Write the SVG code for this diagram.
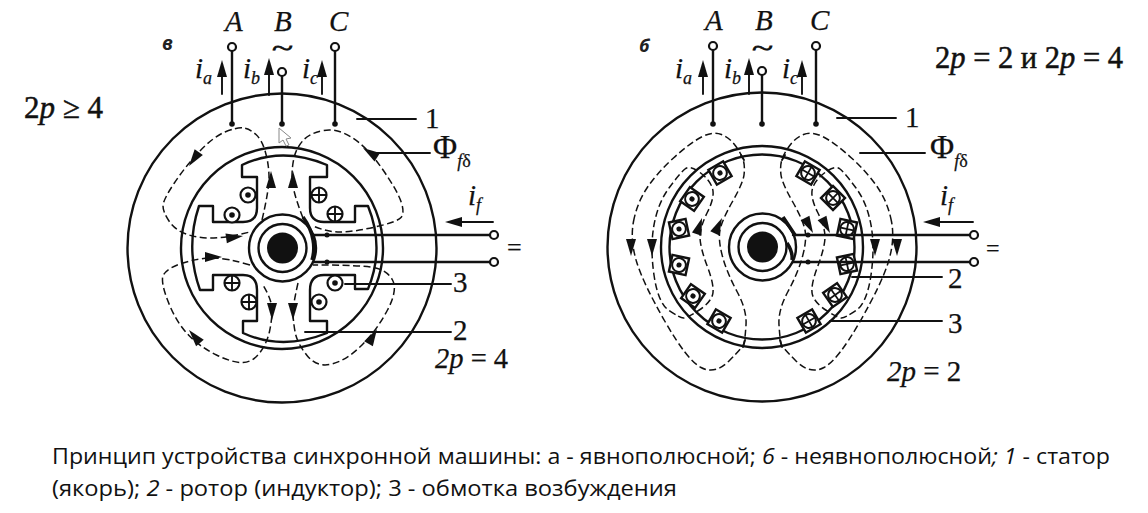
<svg xmlns="http://www.w3.org/2000/svg" width="1148" height="513" viewBox="0 0 1148 513">
<style>
.l{fill:none;stroke:#111;stroke-width:2.4;stroke-linecap:round;stroke-linejoin:round}
.m{fill:none;stroke:#111;stroke-width:1.9;stroke-linecap:round}
.d{fill:none;stroke:#111;stroke-width:1.5;stroke-dasharray:7 3.5}
.k{fill:#111;stroke:none}
.o{fill:#fff;stroke:#111;stroke-width:2.2}
.t{font-family:"Liberation Serif",serif;fill:#111;font-size:29px;stroke:#111;stroke-width:.25}
.i{font-style:italic}
.s{font-size:18px}
.c{font-family:"Open Sans","Noto Sans",sans-serif;font-size:22.5px;fill:#111}
.ls{font-family:"Open Sans",sans-serif;font-style:italic;font-weight:700;fill:#222}
.w{font-size:26px;stroke-width:.7}
</style>
<defs>
<path id="ah" class="k" d="M0 0L-17 -5L-17 5Z"/>
<circle id="term" class="o" r="4"/>
<g id="dot"><circle class="o" r="7.5"/><circle class="k" r="2.8"/></g>
<g id="plus"><circle class="o" r="7.5"/><path class="m" d="M-7 0H7M0 -7V7"/></g>
<rect id="slot" x="-8.5" y="-8.5" width="17" height="17" fill="#fff" stroke="#111" stroke-width="2.4"/>
<g id="hub">
<circle class="l" r="33.5"/>
<circle class="l" r="24"/>
<circle class="k" r="15.5"/>
</g>
</defs>

<g id="machine-a">
<circle class="l" cx="282" cy="248" r="154.5"/>
<circle class="l" cx="282" cy="248" r="101"/>
<g id="rotor-a">
<path class="l" d="M242 165Q282 146 327 165V177H310V208Q310 222 324 222H355V206H368Q385 248 368 289H355V275H324Q310 275 310 290V321H327V333Q282 351 243 333V321H257V290Q257 275 243 275H213V290H200Q185 248 199 206H213V222H243Q257 222 257 208V177H242Z"/>
<use href="#hub" x="282.5" y="248"/>
<path d="M303 217Q311 228 313 240Q315 250 312 260" fill="none" stroke="#111" stroke-width="3.5"/>
</g>
<g id="coils-a">
<use href="#dot" x="248" y="195"/><use href="#dot" x="232" y="215"/>
<use href="#plus" x="319" y="195"/><use href="#plus" x="335" y="214"/>
<use href="#plus" x="232" y="283"/><use href="#plus" x="249" y="302"/>
<use href="#dot" x="319" y="302"/><use href="#dot" x="335" y="283"/>
</g>
<path id="pointer" d="M279 128V143L283 140L286 146L289 145L286 139L291 138Z" fill="#fff" stroke="#888" stroke-width="1"/>
</g>

<g id="machine-b">
<circle class="l" cx="762" cy="247" r="154.5"/>
<circle class="l" cx="762" cy="247" r="101"/>
<circle class="l" cx="762" cy="247" r="92.5"/>
<g id="slots-b">
<g transform="translate(720 173) rotate(-30)"><use href="#slot"/><use href="#dot" transform="scale(.92)"/></g>
<g transform="translate(692 199) rotate(35)"><use href="#slot"/><use href="#dot" transform="scale(.92)"/></g>
<g transform="translate(679 229) rotate(-12)"><use href="#slot"/><use href="#dot" transform="scale(.92)"/></g>
<g transform="translate(679 265) rotate(12)"><use href="#slot"/><use href="#dot" transform="scale(.92)"/></g>
<g transform="translate(693 296) rotate(35)"><use href="#slot"/><use href="#dot" transform="scale(.92)"/></g>
<g transform="translate(719 321) rotate(30)"><use href="#slot"/><use href="#dot" transform="scale(.92)"/></g>
<g transform="translate(808 173) rotate(30)"><use href="#slot"/><use href="#plus" transform="scale(.92)"/></g>
<g transform="translate(833 198) rotate(45)"><use href="#slot"/><use href="#plus" transform="scale(.92)"/></g>
<g transform="translate(847 229) rotate(12)"><use href="#slot"/><use href="#plus" transform="scale(.92)"/></g>
<g transform="translate(847 264) rotate(-12)"><use href="#slot"/><use href="#plus" transform="scale(.92)"/></g>
<g transform="translate(835 295) rotate(-35)"><use href="#slot"/><use href="#plus" transform="scale(.92)"/></g>
<g transform="translate(809 321) rotate(-30)"><use href="#slot"/><use href="#plus" transform="scale(.92)"/></g>
</g>
<use href="#hub" x="762.5" y="247"/>
<path d="M783 217L795 235M787 243Q793 252 792 260" fill="none" stroke="#111" stroke-width="3.5"/>
<path class="m" d="M741 155L744 160M785 155L782 160M745 340L743 347M780 340L782 347"/>
</g>

<g id="connectors">
<g id="flux-a" class="d">
<path d="M262 220Q269 190 269 177.5Q269 165 265.5 152.5Q262 140 256 134.5Q250 129 243.5 128Q237 127 225 132Q213 137 199 152Q185 167 174 183.5Q163 200 163 206Q163 212 169 221Q175 230 186 234Q197 238 210 238Q223 238 236.5 235L250 232"/>
<path d="M250 265Q227 258 212 258Q197 258 180 264Q163 270 162.5 278.5Q162 287 169.5 305Q177 323 188.5 335Q200 347 216.5 355Q233 363 243 362.5Q253 362 260 352.5Q267 343 269.5 331.5Q272 320 272 310Q272 300 263 285"/>
<path d="M298 283Q293 305 293 312.5Q293 320 295 331.5Q297 343 307 355.5Q317 368 332 364Q347 360 362 345Q377 330 387.5 310Q398 290 392.5 280Q387 270 373.5 267.5Q360 265 313 265"/>
<path d="M303 218Q292 190 292 177Q292 165 294.5 156Q297 147 303.5 140Q310 133 323.5 130.5Q337 128 352 137.5Q367 147 382 168.5Q397 190 401 201.5Q405 213 401 217.5Q397 222 375 227Q353 232 340 232Q327 232 313 226"/>
</g>
<g id="flux-b" class="d">
<path id="fo" d="M633.5 221.5Q637 203 647 188Q657 173 673.5 158Q690 143 701.5 137Q713 131 721.5 134.5Q730 138 736 146.5Q742 155 743.5 161Q745 167 744 175Q743 183 732.5 201.5Q722 220 720 230Q718 240 722.5 256.5Q727 273 737 291.5Q747 310 746 325Q745 340 744 343.5Q743 347 729 361Q715 375 701 367.5Q687 360 665 321.5Q643 283 636.5 261.5Q630 240 633.5 221.5Z"/>
<path id="fi" d="M700 172.5Q710 180 712.5 188.5Q715 197 707.5 212Q700 227 700 237Q700 247 707.5 267Q715 287 712.5 295Q710 303 698.5 310.5Q687 318 683.5 318Q680 318 669 310.5Q658 303 654 275Q650 247 654 225Q658 203 669 188Q680 173 685 169Q690 165 700 172.5Z"/>
<use href="#fo" transform="matrix(-1 0 0 1 1525 0)"/>
<use href="#fi" transform="matrix(-1 0 0 1 1525 0)"/>
</g>
<g id="flux-arrows">
<use href="#ah" transform="translate(189 166) rotate(125)"/>
<use href="#ah" transform="translate(271 171) rotate(-90)"/>
<use href="#ah" transform="translate(293 171) rotate(-90)"/>
<use href="#ah" transform="translate(243 236) rotate(-8)"/>
<use href="#ah" transform="translate(222 257) rotate(0)"/>
<use href="#ah" transform="translate(272 320) rotate(90)"/>
<use href="#ah" transform="translate(293 320) rotate(90)"/>
<use href="#ah" transform="translate(189 330) rotate(230)"/>
<use href="#ah" transform="translate(377 329) rotate(-60)"/>
<use href="#ah" transform="translate(631 256) rotate(90)"/>
<use href="#ah" transform="translate(652 256) rotate(90)"/>
<use href="#ah" transform="translate(875 256) rotate(90)"/>
<use href="#ah" transform="translate(897 256) rotate(90)"/>
<use href="#ah" transform="translate(702 218) rotate(-72)"/>
<use href="#ah" transform="translate(722 218) rotate(-65)"/>
<use href="#ah" transform="translate(813 233) rotate(62)"/>
<use href="#ah" transform="translate(830 233) rotate(62)"/>
</g>
<g id="wires-a">
<path class="l" d="M232 51V124M282 76V124M335 51V124M313 235H490M313 262H490"/>
<path class="m" d="M357 119H416M372 153H430M345 284H451M305 332H451M222 94V70M269 95V70M322 94V70M493 222H456"/>
<use href="#ah" transform="translate(222 60) rotate(-90)"/>
<use href="#ah" transform="translate(269 58) rotate(-90)"/>
<use href="#ah" transform="translate(322 60) rotate(-90)"/>
<use href="#ah" transform="translate(445 222) rotate(180)"/>
<use href="#ah" transform="translate(363 148) rotate(213)"/>
<circle class="k" cx="232" cy="124" r="2.8"/><circle class="k" cx="282" cy="124" r="2.8"/><circle class="k" cx="335" cy="124" r="2.8"/>
<circle class="k" cx="327" cy="235" r="2.5"/><circle class="k" cx="327" cy="262" r="2.5"/>
<use href="#term" x="232" y="47"/><use href="#term" x="282" y="72"/><use href="#term" x="335" y="47"/>
<use href="#term" x="494" y="235"/><use href="#term" x="494" y="262"/>
</g>
<g id="wires-b">
<path class="l" d="M713 50V124M762 75V124M816 50V124M793 235H970M793 262H970"/>
<path class="m" d="M837 118H896M860 153H925M852 277H942M830 321H942M703 94V70M749 94V70M802 94V70M973 222H934"/>
<use href="#ah" transform="translate(703 60) rotate(-90)"/>
<use href="#ah" transform="translate(749 58) rotate(-90)"/>
<use href="#ah" transform="translate(802 60) rotate(-90)"/>
<use href="#ah" transform="translate(923 222) rotate(180)"/>
<circle class="k" cx="713" cy="124" r="2.8"/><circle class="k" cx="762" cy="124" r="2.8"/><circle class="k" cx="816" cy="124" r="2.8"/>
<circle class="k" cx="808" cy="235" r="2.5"/><circle class="k" cx="808" cy="262" r="2.5"/>
<use href="#term" x="713" y="46"/><use href="#term" x="762" y="71"/><use href="#term" x="816" y="46"/>
<use href="#term" x="974" y="235"/><use href="#term" x="974" y="262"/>
</g>
</g>

<g id="labels-a">
<text class="t i" x="225" y="31">A</text><text class="t i" x="274" y="31">B</text><text class="t i" x="329" y="31">C</text>
<text class="t w" x="272" y="56" textLength="21" lengthAdjust="spacingAndGlyphs">~</text>
<text class="ls" x="162" y="50" style="font-size:19px">в</text>
<text class="t i" x="195" y="78">i<tspan class="s" dy="6">a</tspan></text>
<text class="t i" x="243" y="78">i<tspan class="s" dy="6">b</tspan></text>
<text class="t i" x="302" y="78">i<tspan class="s" dy="6">c</tspan></text>
<text class="t i" x="468" y="205">i<tspan class="s" dy="6">f</tspan></text>
<text class="t" x="425" y="128">1</text>
<text class="t" x="433" y="158" style="font-size:33px">Φ<tspan class="s i" dy="9">f</tspan><tspan class="s">δ</tspan></text>
<text class="t" x="453" y="292">3</text>
<text class="t" x="453" y="340">2</text>
<text class="t" x="435" y="368" style="font-size:28.5px"><tspan class="i">2p</tspan> = 4</text>
<text class="t" x="507" y="256" style="font-size:26px">=</text>
<text class="t" x="24" y="118" style="font-size:31px;stroke-width:.5">2<tspan class="i">p</tspan> ≥ 4</text>
</g>
<g id="labels-b">
<text class="t i" x="705" y="30">A</text><text class="t i" x="755" y="30">B</text><text class="t i" x="810" y="30">C</text>
<text class="t w" x="752" y="56" textLength="21" lengthAdjust="spacingAndGlyphs">~</text>
<text class="ls" x="639" y="52" style="font-size:18px">б</text>
<text class="t i" x="675" y="78">i<tspan class="s" dy="6">a</tspan></text>
<text class="t i" x="724" y="78">i<tspan class="s" dy="6">b</tspan></text>
<text class="t i" x="782" y="78">i<tspan class="s" dy="6">c</tspan></text>
<text class="t i" x="940" y="205">i<tspan class="s" dy="6">f</tspan></text>
<text class="t" x="905" y="127">1</text>
<text class="t" x="930" y="158" style="font-size:33px">Φ<tspan class="s i" dy="9">f</tspan><tspan class="s">δ</tspan></text>
<text class="t" x="948" y="288">2</text>
<text class="t" x="948" y="333">3</text>
<text class="t" x="887" y="381"><tspan class="i">2p</tspan> = 2</text>
<text class="t" x="986" y="256" style="font-size:24px">=</text>
<text class="t" x="935" y="68" style="font-size:30.5px;stroke-width:.5">2<tspan class="i">p</tspan> = 2 и 2<tspan class="i">p</tspan> = 4</text>
</g>
<g id="caption">
<text class="c" x="52" y="464" textLength="1058" lengthAdjust="spacingAndGlyphs">Принцип устройства синхронной машины: а - явнополюсной; <tspan class="i">6</tspan> - неявнополюсной<tspan class="i">; 1</tspan> - статор</text>
<text class="c" x="52" y="496" textLength="625" lengthAdjust="spacingAndGlyphs">(якорь); <tspan class="i">2</tspan> - ротор (индуктор); 3 - обмотка возбуждения</text>
</g>
</svg>
